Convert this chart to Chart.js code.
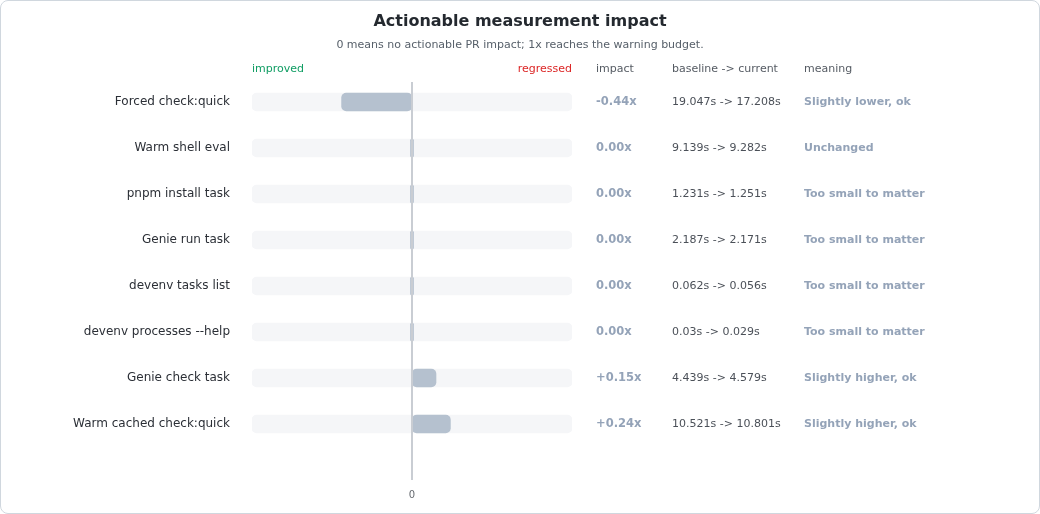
<!DOCTYPE html>
<html>
<head>
<meta charset="utf-8">
<script src="https://cdn.jsdelivr.net/npm/chart.js@4.4.1/dist/chart.umd.min.js"></script>
<style>
  html, body { margin: 0; padding: 0; background: #ffffff; }
  #wrap { position: relative; width: 1040px; height: 514px; }
  #card {
    position: absolute; left: 0; top: 0; width: 1040px; height: 514px;
    box-sizing: border-box; border: 1px solid #d0d7de; border-radius: 8px;
    pointer-events: none;
  }
  canvas { position: absolute; left: 0; top: 0; }
</style>
</head>
<body>
<div id="wrap">
  <canvas id="impactChart" width="1040" height="514"></canvas>
  <div id="card"></div>
</div>
<script>
// ==============================
// DATA
// ==============================
const categories = [
  "Forced check:quick",
  "Warm shell eval",
  "pnpm install task",
  "Genie run task",
  "devenv tasks list",
  "devenv processes --help",
  "Genie check task",
  "Warm cached check:quick"
];
const impact = [-0.44, 0.00, 0.00, 0.00, 0.00, 0.00, 0.15, 0.24];
const baseline = [19.047, 9.139, 1.231, 2.187, 0.062, 0.03, 4.439, 10.521];
const current = [17.208, 9.282, 1.251, 2.171, 0.056, 0.029, 4.579, 10.801];
const meaning = [
  "Slightly lower, ok",
  "Unchanged",
  "Too small to matter",
  "Too small to matter",
  "Too small to matter",
  "Too small to matter",
  "Slightly higher, ok",
  "Slightly higher, ok"
];
const axisMin = -1;
const axisMax = 1;
const xTicks = [0];

const FONT = "'DejaVu Sans', 'Liberation Sans', sans-serif";

function fmtImpact(v) {
  if (v > 0) return "+" + v.toFixed(2) + "x";
  return v.toFixed(2) + "x";
}

// ==============================
// OVERLAY TEXT + ZERO LINE
// ==============================
const overlay = {
  id: "overlay",
  afterDatasetsDraw(chart) {
    const { ctx, chartArea, scales } = chart;
    const x0 = scales.x.getPixelForValue(0);

    ctx.save();
    ctx.strokeStyle = "#c9cdd3";
    ctx.lineWidth = 2;
    ctx.beginPath();
    ctx.moveTo(x0, chartArea.top + 3);
    ctx.lineTo(x0, chartArea.bottom + 33);
    ctx.stroke();
    ctx.restore();
  },
  afterDraw(chart) {
    const { ctx, chartArea, scales } = chart;
    ctx.save();
    ctx.textBaseline = "middle";

    // title
    ctx.textAlign = "center";
    ctx.fillStyle = "#24292f";
    ctx.font = "bold 16px " + FONT;
    ctx.fillText("Actionable measurement impact", 520, 22);
    ctx.fillStyle = "#57606a";
    ctx.font = "11px " + FONT;
    ctx.fillText("0 means no actionable PR impact; 1x reaches the warning budget.", 520, 45);

    // headers
    const hy = 69;
    ctx.font = "11px " + FONT;
    ctx.textAlign = "left";
    ctx.fillStyle = "#0f9d63";
    ctx.fillText("improved", chartArea.left, hy);
    ctx.textAlign = "right";
    ctx.fillStyle = "#dc2626";
    ctx.fillText("regressed", chartArea.right, hy);
    ctx.textAlign = "left";
    ctx.fillStyle = "#555b63";
    ctx.fillText("impact", 596, hy);
    ctx.fillText("baseline -> current", 672, hy);
    ctx.fillText("meaning", 804, hy);

    // rows
    categories.forEach((c, i) => {
      const y = scales.y.getPixelForValue(i);
      ctx.fillStyle = "#94a3b8";
      ctx.font = "bold 11.5px " + FONT;
      ctx.fillText(fmtImpact(impact[i]), 596, y);
      ctx.fillStyle = "#4b5058";
      ctx.font = "11px " + FONT;
      ctx.fillText(baseline[i] + "s -> " + current[i] + "s", 672, y);
      ctx.fillStyle = "#94a3b8";
      ctx.font = "bold 11px " + FONT;
      ctx.fillText(meaning[i], 804, y);
    });
    ctx.restore();
  }
};

// ==============================
// CHART
// ==============================
const ctx = document.getElementById("impactChart");
new Chart(ctx, {
  type: "bar",
  data: {
    labels: categories,
    datasets: [
      {
        label: "impact",
        data: impact,
        backgroundColor: "#b5c1cf",
        borderRadius: 5,
        borderSkipped: false,
        barThickness: 18,
        minBarLength: 3,
        order: 1
      },
      {
        label: "track",
        data: categories.map(() => [axisMin, axisMax]),
        backgroundColor: "#f5f6f8",
        borderRadius: 5,
        borderSkipped: false,
        barThickness: 18,
        order: 2
      }
    ]
  },
  options: {
    indexAxis: "y",
    responsive: false,
    animation: false,
    events: [],
    layout: { padding: { top: 79, right: 468, left: 0, bottom: 0 } },
    datasets: { bar: { grouped: false } },
    plugins: {
      legend: { display: false },
      tooltip: { enabled: false },
      title: { display: false }
    },
    scales: {
      x: {
        min: axisMin,
        max: axisMax,
        afterBuildTicks: (scale) => { scale.ticks = xTicks.map(v => ({ value: v })); },
        afterFit: (scale) => { scale.height = 67; },
        grid: { display: false, drawTicks: false },
        border: { display: false },
        ticks: {
          padding: 42,
          color: "#666a70",
          font: { family: FONT, size: 10 },
          maxRotation: 0
        }
      },
      y: {
        afterFit: (scale) => { scale.width = 252; },
        grid: { display: false, drawTicks: false },
        border: { display: false },
        ticks: {
          padding: 22,
          color: "#2b2f36",
          font: { family: FONT, size: 12 }
        }
      }
    }
  },
  plugins: [overlay]
});
</script>
</body>
</html>
